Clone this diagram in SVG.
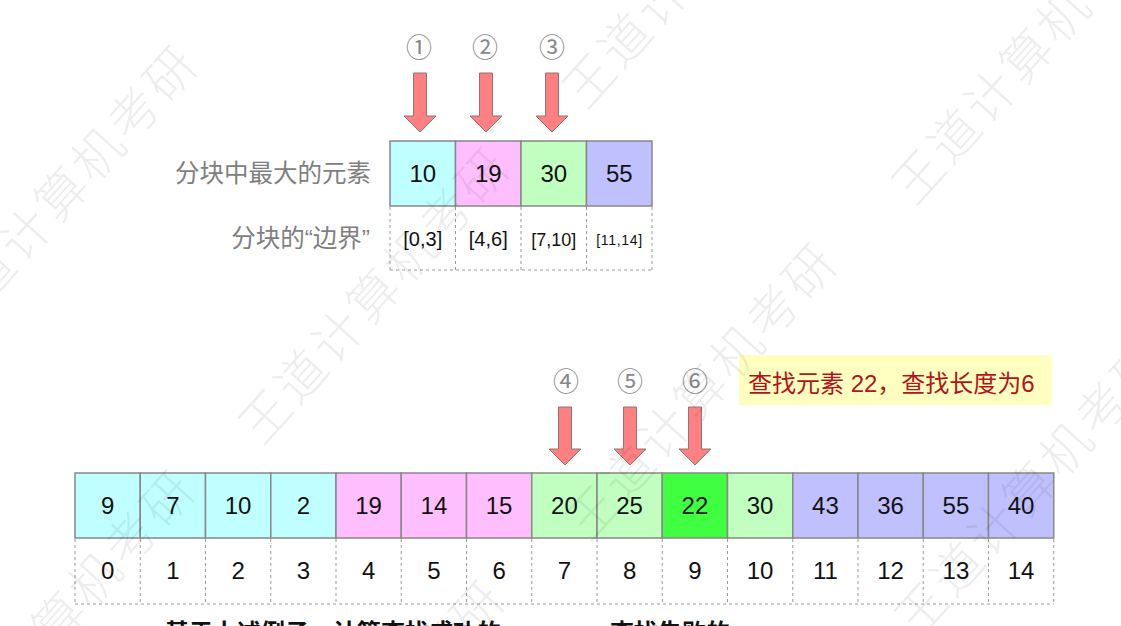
<svg xmlns="http://www.w3.org/2000/svg" width="1121" height="626" viewBox="0 0 1121 626">
<style>
.bg{fill:#ffffff}
.box{stroke:#888888;stroke-width:1.5}
.c{fill:#BFFFFF}.p{fill:#FFBFFF}.g{fill:#C0FFC0}.v{fill:#C0C0FF}.hg{fill:#40FF40}
.num{font-family:"Liberation Sans",Arial,sans-serif;font-size:24px;fill:#111;text-anchor:middle}
.br{font-family:"Liberation Sans",Arial,sans-serif;fill:#111;text-anchor:middle}
.lbl{font-family:"Liberation Sans","Noto Sans CJK SC",sans-serif;font-size:24.5px;fill:#7f7f7f;text-anchor:end}
.circ{font-family:"Noto Sans CJK SC","DejaVu Sans",sans-serif;font-size:26px;fill:#888888;text-anchor:middle}
.dash{stroke:#9a9a9a;stroke-width:1;stroke-dasharray:3 3;fill:none}
.arrow{fill:#FF8080;stroke:#8f7575;stroke-width:1}
.note{font-family:"Liberation Sans","Noto Sans CJK SC",sans-serif;font-size:24px;fill:#B5121B}
.bottom{font-family:"Liberation Sans","Noto Sans CJK SC",sans-serif;font-size:24px;font-weight:bold;fill:#111}
.wm{font-family:"Noto Sans CJK SC",sans-serif;font-size:50px;font-weight:300;letter-spacing:4px;fill:#000;fill-opacity:0.07;text-anchor:middle;dominant-baseline:central}
</style>
<rect class="bg" x="0" y="0" width="1121" height="626"/>

<g id="label-max">
<text class="lbl" x="371" y="182">分块中最大的元素</text>
</g>
<g id="label-bound">
<text class="lbl" x="370" y="247">分块的“边界”</text>
</g>

<g id="index-table">
<rect class="box c" x="390" y="141" width="65.5" height="65"/>
<text class="num" x="422.75" y="182">10</text>
<rect class="box p" x="455.5" y="141" width="65.5" height="65"/>
<text class="num" x="488.25" y="182">19</text>
<rect class="box g" x="521" y="141" width="65.5" height="65"/>
<text class="num" x="553.75" y="182">30</text>
<rect class="box v" x="586.5" y="141" width="65.5" height="65"/>
<text class="num" x="619.25" y="182">55</text>
</g>

<g id="index-bounds">
<path class="dash" d="M390 207V270M455.5 207V270M521 207V270M586.5 207V270M652 207V270M390 270H652"/>
<text class="br" x="422.75" y="246" font-size="20">[0,3]</text>
<text class="br" x="488.25" y="246" font-size="20">[4,6]</text>
<text class="br" x="553.75" y="246" font-size="18">[7,10]</text>
<text class="br" x="619.25" y="245" font-size="14" textLength="46" lengthAdjust="spacing">[11,14]</text>
</g>

<g id="step-labels">
<text class="circ" x="419" y="57">①</text>
<text class="circ" x="485" y="57">②</text>
<text class="circ" x="552" y="57">③</text>
<text class="circ" x="566" y="391">④</text>
<text class="circ" x="630" y="391">⑤</text>
<text class="circ" x="695" y="391">⑥</text>
</g>

<g id="connectors">
<path class="arrow" d="M413.5 73H426.5V116H436L420 132L404 116H413.5Z"/>
<path class="arrow" d="M479.5 73H492.5V116H502L486 132L470 116H479.5Z"/>
<path class="arrow" d="M545.5 73H558.5V116H568L552 132L536 116H545.5Z"/>
<path class="arrow" d="M558.5 407H571.5V449H581L565 465L549 449H558.5Z"/>
<path class="arrow" d="M623.5 407H636.5V449H646L630 465L614 449H623.5Z"/>
<path class="arrow" d="M688.5 407H701.5V449H711L695 465L679 449H688.5Z"/>
</g>

<g id="note">
<rect x="739" y="355" width="313" height="50" fill="#FFFFC0"/>
<text class="note" x="748" y="392">查找元素 22，查找长度为6</text>
</g>

<g id="array">
<rect class="box c" x="75" y="473" width="65.25" height="65"/>
<rect class="box c" x="140.25" y="473" width="65.25" height="65"/>
<rect class="box c" x="205.5" y="473" width="65.25" height="65"/>
<rect class="box c" x="270.75" y="473" width="65.25" height="65"/>
<rect class="box p" x="336" y="473" width="65.25" height="65"/>
<rect class="box p" x="401.25" y="473" width="65.25" height="65"/>
<rect class="box p" x="466.5" y="473" width="65.25" height="65"/>
<rect class="box g" x="531.75" y="473" width="65.25" height="65"/>
<rect class="box g" x="597" y="473" width="65.25" height="65"/>
<rect class="box hg" x="662.25" y="473" width="65.25" height="65"/>
<rect class="box g" x="727.5" y="473" width="65.25" height="65"/>
<rect class="box v" x="792.75" y="473" width="65.25" height="65"/>
<rect class="box v" x="858" y="473" width="65.25" height="65"/>
<rect class="box v" x="923.25" y="473" width="65.25" height="65"/>
<rect class="box v" x="988.5" y="473" width="65.25" height="65"/>
<text class="num" x="107.6" y="514">9</text>
<text class="num" x="172.9" y="514">7</text>
<text class="num" x="238.1" y="514">10</text>
<text class="num" x="303.4" y="514">2</text>
<text class="num" x="368.6" y="514">19</text>
<text class="num" x="433.9" y="514">14</text>
<text class="num" x="499.1" y="514">15</text>
<text class="num" x="564.4" y="514">20</text>
<text class="num" x="629.6" y="514">25</text>
<text class="num" x="694.9" y="514">22</text>
<text class="num" x="760.1" y="514">30</text>
<text class="num" x="825.4" y="514">43</text>
<text class="num" x="890.6" y="514">36</text>
<text class="num" x="955.9" y="514">55</text>
<text class="num" x="1021.1" y="514">40</text>
</g>

<g id="array-index">
<path class="dash" d="M75 539V604M140.25 539V604M205.5 539V604M270.75 539V604M336 539V604M401.25 539V604M466.5 539V604M531.75 539V604M597 539V604M662.25 539V604M727.5 539V604M792.75 539V604M858 539V604M923.25 539V604M988.5 539V604M1053.75 539V604M75 604H1053.75"/>
<text class="num" x="107.6" y="579">0</text>
<text class="num" x="172.9" y="579">1</text>
<text class="num" x="238.1" y="579">2</text>
<text class="num" x="303.4" y="579">3</text>
<text class="num" x="368.6" y="579">4</text>
<text class="num" x="433.9" y="579">5</text>
<text class="num" x="499.1" y="579">6</text>
<text class="num" x="564.4" y="579">7</text>
<text class="num" x="629.6" y="579">8</text>
<text class="num" x="694.9" y="579">9</text>
<text class="num" x="760.1" y="579">10</text>
<text class="num" x="825.4" y="579">11</text>
<text class="num" x="890.6" y="579">12</text>
<text class="num" x="955.9" y="579">13</text>
<text class="num" x="1021.1" y="579">14</text>
</g>

<g id="question">
<text class="bottom" x="165" y="641">基于上述例子，计算查找成功的</text>
<text class="bottom" x="610" y="641">查找失败的</text>
</g>

<g id="watermarks">
<text class="wm" transform="translate(60,190) rotate(-48)">王道计算机考研</text>
<text class="wm" transform="translate(57,615) rotate(-48)">王道计算机考研</text>
<text class="wm" transform="translate(372,292) rotate(-48)">王道计算机考研</text>
<text class="wm" transform="translate(367,725) rotate(-48)">王道计算机考研</text>
<text class="wm" transform="translate(699,388) rotate(-48)">王道计算机考研</text>
<text class="wm" transform="translate(696,-44) rotate(-48)">王道计算机考研</text>
<text class="wm" transform="translate(1028,485) rotate(-48)">王道计算机考研</text>
<text class="wm" transform="translate(1025,52) rotate(-48)">王道计算机考研</text>
</g>
</svg>
